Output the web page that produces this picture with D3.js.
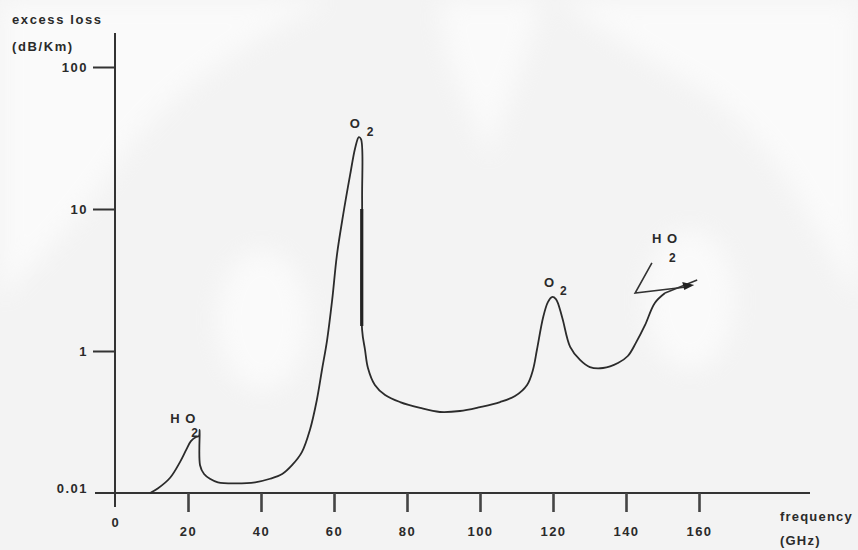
<!DOCTYPE html>
<html>
<head>
<meta charset="utf-8">
<script src="https://cdn.jsdelivr.net/npm/d3@7"></script>
<style>
  body { margin: 0; background: #f3f3f3; }
  svg text { font-family: "Liberation Sans", Arial, sans-serif; font-weight: bold; fill: #2a2a2a; }
</style>
</head>
<body>
<svg id="chart" width="858" height="550"></svg>
<script>
// Atmospheric excess loss versus frequency (log scale, one decade per grid step)
const freqGHz = [9.6, 11.8, 15.1, 17.8, 19.5, 20.8, 22.2, 23.0, 23.2, 23.3, 24.4, 26.0, 28.2, 32.9, 38.4,
  42.5, 45.8, 48.5, 51.2, 53.4, 55.3, 56.7, 58.1, 59.5, 60.8, 62.5, 64.4, 65.8, 66.8, 67.4, 67.7, 67.7,
  68.5, 69.3, 71.2, 74.0, 78.1, 83.6, 89.0, 94.5, 100.0, 105.5, 109.6, 112.9, 114.5, 115.6, 117.3,
  118.6, 119.7, 120.8, 122.5, 124.7, 127.4, 130.1, 133.7, 137.8, 140.5, 142.7, 145.2, 147.9, 150.7];
const lossDbKm = [0.10, 0.108, 0.128, 0.165, 0.201, 0.232, 0.248, 0.252, 0.278, 0.157, 0.136, 0.126, 0.119, 0.117, 0.119,
  0.126, 0.136, 0.157, 0.194, 0.278, 0.452, 0.735, 1.19, 2.29, 4.74, 9.08, 17.3, 26.9, 32.1, 31.1, 11.6, 1.41,
  1.02, 0.76, 0.577, 0.490, 0.437, 0.397, 0.372, 0.378, 0.403, 0.437, 0.482, 0.577, 0.735, 1.02, 1.73,
  2.21, 2.40, 2.32, 1.73, 1.07, 0.865, 0.771, 0.759, 0.823, 0.922, 1.14, 1.52, 2.18, 2.56];

// Pointer drawn at the water-vapour line near 150 GHz
const pointerFreq = [147.1, 142.5, 156.5];
const pointerLoss = [4.17, 2.56, 2.82];
const tailFreq = [150.7, 159.5];
const tailLoss = [2.56, 3.16];

const xTicks = [20, 40, 60, 80, 100, 120, 140, 160];
const xTickLabels = ["20", "40", "60", "80", "100", "120", "140", "160"];
const yTicks = [0.1, 1, 10, 100];
const yTickLabels = ["0.01", "1", "10", "100"];

const svg = d3.select("#chart");

// faint ornamental backdrop
const defs = svg.append("defs");
defs.append("filter").attr("id", "soft").append("feGaussianBlur").attr("stdDeviation", 12);
const deco = svg.append("g").attr("filter", "url(#soft)").attr("fill", "#ffffff").attr("opacity", 0.6);
deco.append("path").attr("d", "M0,0 L330,0 C250,40 170,90 120,160 C80,220 40,260 0,300 Z");
deco.append("ellipse").attr("cx", 262).attr("cy", 320).attr("rx", 45).attr("ry", 70);
deco.append("path").attr("d", "M440,0 L540,0 C530,60 500,110 490,160 C470,110 440,60 440,0 Z");
deco.append("ellipse").attr("cx", 690).attr("cy", 300).attr("rx", 45).attr("ry", 70);
deco.append("path").attr("d", "M858,0 L858,300 C820,250 790,150 700,90 C650,60 600,30 560,0 Z");

const x = d3.scaleLinear().domain([0, 160]).range([115, 699]);
const y = d3.scaleLog().domain([0.1, 100]).range([493, 67]);

// axis lines
svg.append("line").attr("x1", 95).attr("x2", 810).attr("y1", y(0.1)).attr("y2", y(0.1))
  .attr("stroke", "#333").attr("stroke-width", 2);
svg.append("line").attr("x1", x(0)).attr("x2", x(0)).attr("y1", 33).attr("y2", 507)
  .attr("stroke", "#333").attr("stroke-width", 2);

// x axis ticks
const xAxis = svg.append("g").attr("transform", `translate(0,${y(0.1)})`)
  .call(d3.axisBottom(x).tickValues(xTicks).tickFormat((d, i) => xTickLabels[i]).tickSize(19).tickPadding(15));
xAxis.select(".domain").remove();
xAxis.selectAll(".tick line").attr("stroke", "#444").attr("stroke-width", 2.6);
xAxis.selectAll(".tick text").attr("font-size", 13).attr("letter-spacing", "1.5px")
  .attr("font-family", "Liberation Sans, Arial, sans-serif").attr("fill", "#2a2a2a");

svg.append("text").attr("x", x(0)).attr("y", 527).attr("text-anchor", "middle")
  .attr("font-size", 13).text("0");

// y axis ticks
const yAxis = svg.append("g").attr("transform", `translate(${x(0)},0)`)
  .call(d3.axisLeft(y).tickValues(yTicks).tickFormat((d, i) => yTickLabels[i]).tickSize(22).tickPadding(5));
yAxis.select(".domain").remove();
yAxis.selectAll(".tick line").attr("stroke", "#333").attr("stroke-width", 2)
  .attr("opacity", d => d === 0.1 ? 0 : 1);
yAxis.selectAll(".tick text").attr("font-size", 13).attr("letter-spacing", "1.5px")
  .attr("font-family", "Liberation Sans, Arial, sans-serif").attr("fill", "#2a2a2a")
  .attr("dy", d => d === 0.1 ? "-0.05em" : "0.32em");

// axis titles
svg.append("text").attr("x", 12).attr("y", 24).attr("font-size", 13).attr("letter-spacing", "1.6px").text("excess loss");
svg.append("text").attr("x", 12).attr("y", 51).attr("font-size", 13).attr("letter-spacing", "1.6px").text("(dB/Km)");
svg.append("text").attr("x", 780).attr("y", 521).attr("font-size", 13).attr("letter-spacing", "1.2px").text("frequency");
svg.append("text").attr("x", 780).attr("y", 545).attr("font-size", 13).attr("letter-spacing", "1.2px").text("(GHz)");

// loss curve
const pts = freqGHz.map((f, i) => [f, lossDbKm[i]]);
const line = d3.line().x(d => x(d[0])).y(d => y(d[1])).curve(d3.curveCatmullRom.alpha(0.5));
svg.append("path").datum(pts).attr("d", line)
  .attr("fill", "none").attr("stroke", "#2b2b2b").attr("stroke-width", 1.8).attr("stroke-linejoin", "round");

// heavier trailing edge of the 60 GHz oxygen line
svg.append("path").datum([[67.6, 10], [67.6, 1.5]])
  .attr("d", d3.line().x(d => x(d[0])).y(d => y(d[1])))
  .attr("stroke", "#222").attr("stroke-width", 3.2);

// water vapour pointer
const straight = d3.line().x(d => x(d[0])).y(d => y(d[1]));
svg.append("path").datum(pointerFreq.map((f, i) => [f, pointerLoss[i]])).attr("d", straight)
  .attr("fill", "none").attr("stroke", "#333").attr("stroke-width", 1.6);
svg.append("path").datum(tailFreq.map((f, i) => [f, tailLoss[i]])).attr("d", straight)
  .attr("fill", "none").attr("stroke", "#333").attr("stroke-width", 1.6);
const ax = x(pointerFreq[2]), ay = y(pointerLoss[2]);
svg.append("path").attr("d", `M${ax + 8},${ay - 2} L${ax - 4},${ay - 5} L${ax - 2},${ay + 3} Z`).attr("fill", "#222");

// line labels
function label(xx, yy, main, sub, subDx, subDy) {
  svg.append("text").attr("x", xx).attr("y", yy).attr("font-size", 13).attr("letter-spacing", "1px").text(main);
  if (sub) svg.append("text").attr("x", xx + subDx).attr("y", yy + subDy).attr("font-size", 12).text(sub);
}
label(x(22.5) - 27, y(0.29) - 4, "H  O", "2", 21, 14);
label(x(66.8) - 9, y(32.1) - 9, "O", "2", 17, 8);
label(x(119.7) - 8, y(2.4) - 10, "O", "2", 16, 8);
label(x(147.1) + 0, y(4.17) - 20, "H  O", "2", 17, 19);
</script>
</body>
</html>
